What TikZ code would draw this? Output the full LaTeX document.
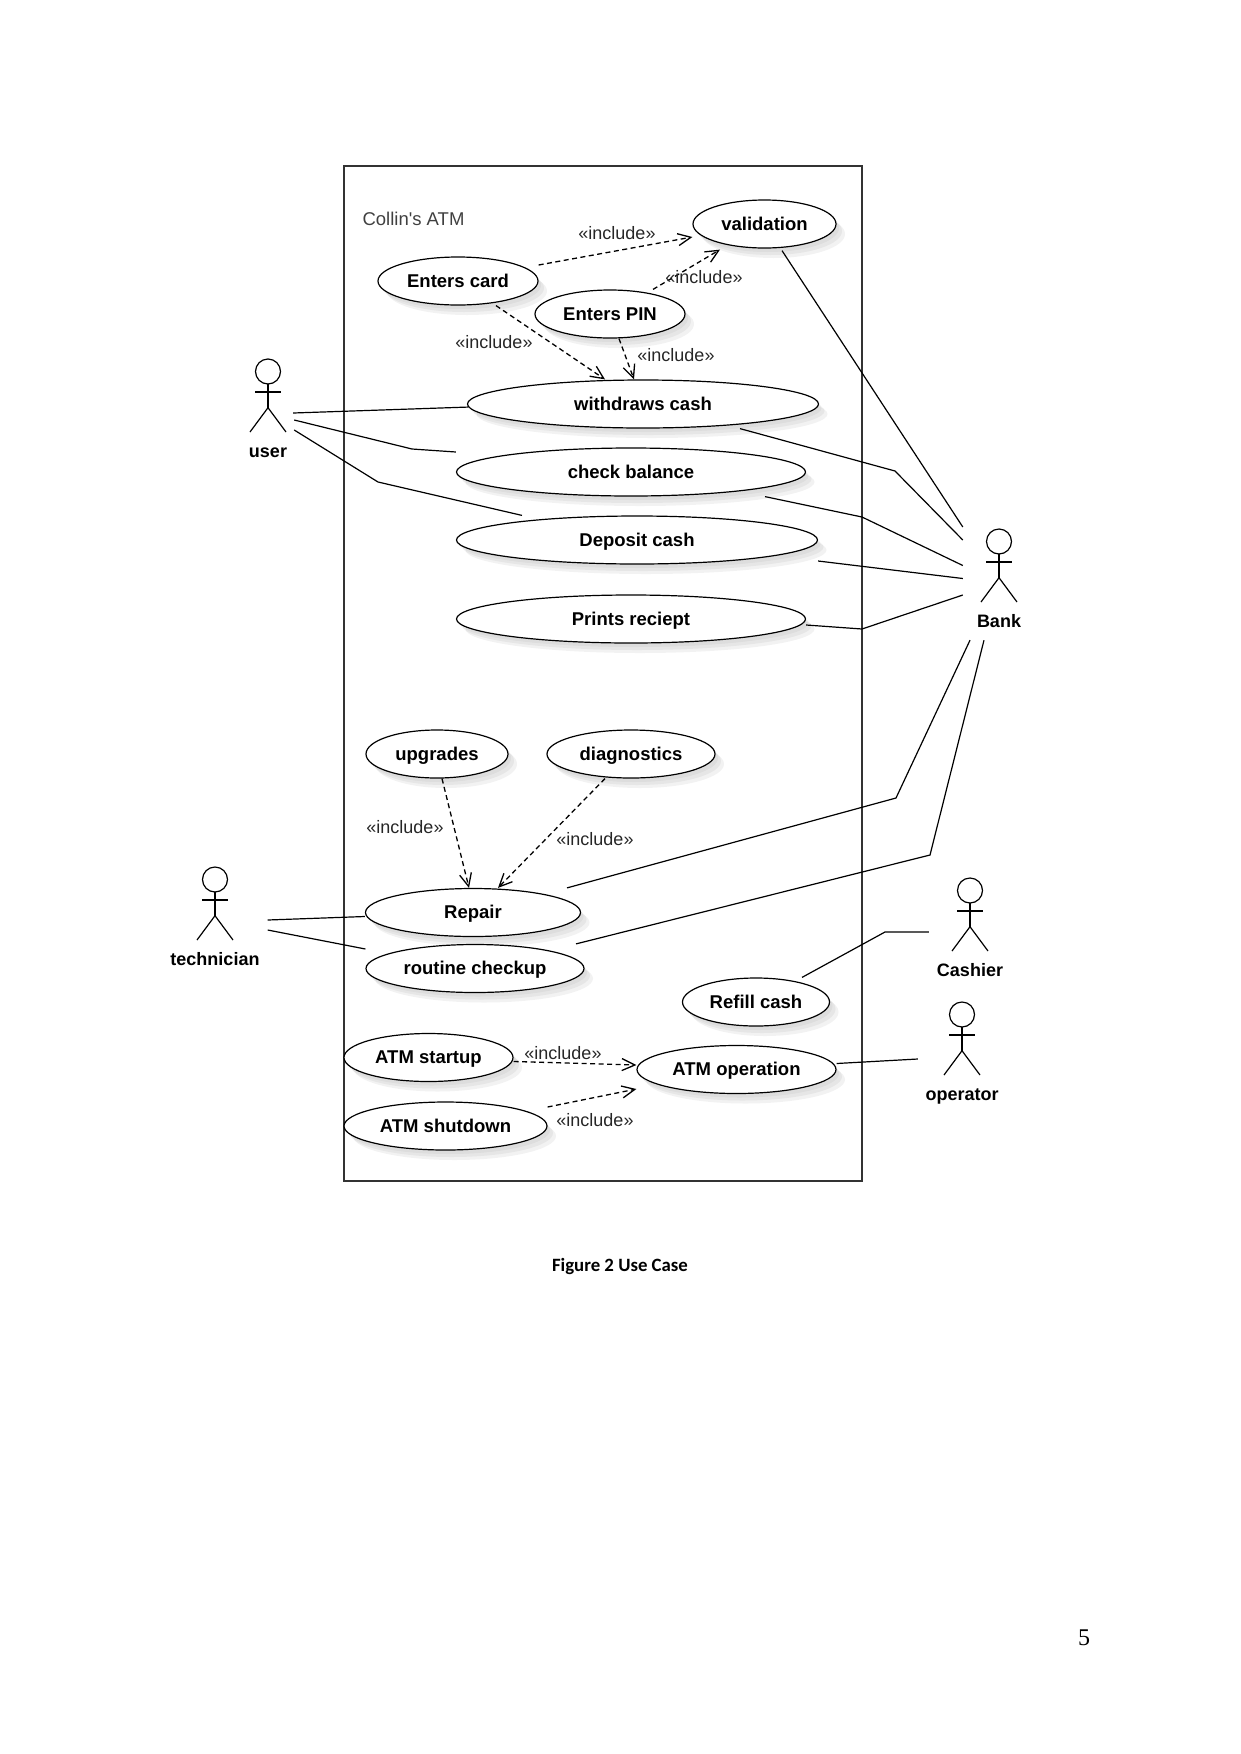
\documentclass[tikz,border=0pt]{standalone}
\usepackage{fontspec}
\setmainfont{Liberation Sans}
\newfontfamily\captionfont{Carlito}
\newfontfamily\pagefont{Liberation Serif}
\usetikzlibrary{positioning,shapes.geometric,arrows.meta,shadows}
\tikzset{
  stickman/.pic={
    \draw[line width=1.2pt] (0,-24) circle (12.5pt);
    \draw[line width=1.2pt] (0,-11.5) -- (0,12.2);
    \draw[line width=1.2pt] (-13,-3.5) -- (13,-3.5);
    \draw[line width=1.2pt] (-18,36.5) -- (0,12.2) -- (18,36.5);
  }
}
\begin{document}
\begin{tikzpicture}[%
    x=1pt, y=-1pt,
    node distance=56pt,
    softshadow/.style={%
      drop shadow={shadow xshift=3pt,shadow yshift=-4pt,fill=black,opacity=0.04},
      drop shadow={shadow xshift=6pt,shadow yshift=-7pt,fill=black,opacity=0.05},
      drop shadow={shadow xshift=9pt,shadow yshift=-10pt,fill=black,opacity=0.05}
    },
    usecase/.style={%
      ellipse,
      draw,
      fill=white,
      line width=1.2pt,
      minimum height=48pt,
      inner sep=0pt,
      text height=14pt,
      text depth=2pt,
      font=\bfseries\fontsize{18.5}{20}\selectfont,
      softshadow
    },
    actor/.style={%
      minimum width=36pt,
      minimum height=73pt,
      inner sep=0pt
    },
    actorname/.style={%
      inner sep=0pt,
      text height=14pt,
      text depth=2pt,
      font=\bfseries\fontsize{18}{20}\selectfont
    },
    note/.style={%
      inner sep=0pt,
      text=black!85,
      font=\fontsize{18}{20}\selectfont
    },
    assoc/.style={line width=1.2pt},
    incl/.style={%
      line width=1.3pt,
      dash pattern=on 5pt off 3.5pt,
      ->,
      >={Straight Barb[length=13pt,width=12pt]}
    }
  ]
    \useasboundingbox (0,0) rectangle (1241,1754);

    \node[draw=black!80, line width=2pt, minimum width=518pt, minimum height=1015pt, inner sep=0pt] (atm) at (603,673.5) {};
    \node[note, text=black!75, font=\fontsize{18.5}{20}\selectfont] (atmname) at (413.5,219) {Collin\textquotesingle s ATM};

    \node[usecase, minimum width=143pt] (validation) at (764.5,224) {validation};
    \node[usecase, minimum width=160pt] (card) at (458,281) {Enters card};
    \node[usecase, minimum width=150pt] (pin) at (610,314) {Enters PIN};

    \node[usecase, minimum width=351pt] (withdraws) at (643,404) {withdraws cash};
    \node[usecase, minimum width=349pt, node distance=68pt, xshift=-12pt] (check) [below of=withdraws] {check balance};
    \node[usecase, minimum width=361pt, node distance=68pt, xshift=6pt] (deposit) [below of=check] {Deposit cash};
    \node[usecase, minimum width=349pt, node distance=79pt, xshift=-6pt] (prints) [below of=deposit] {Prints reciept};

    \node[usecase, minimum width=142pt] (upgrades) at (437,754) {upgrades};
    \node[usecase, minimum width=168pt, node distance=194pt] (diagnostics) [right of=upgrades] {diagnostics};
    \node[usecase, minimum width=215pt] (repair) at (473,912.5) {Repair};
    \node[usecase, minimum width=218pt, xshift=2pt] (routine) [below of=repair] {routine checkup};

    \node[usecase, minimum width=147pt] (refill) at (756,1002) {Refill cash};
    \node[usecase, minimum width=199pt] (operation) at (736.5,1069.5) {ATM operation};
    \node[usecase, minimum width=169pt] (startup) at (428.5,1057.5) {ATM startup};
    \node[usecase, minimum width=203pt, node distance=68.5pt, xshift=17pt] (shutdown) [below of=startup] {ATM shutdown};

    \node[actor] (user) at (268,395.5) {};
    \node[actor] (bank) at (999,565.5) {};
    \node[actor] (technician) at (215,903.5) {};
    \node[actor] (cashier) at (970,914.5) {};
    \node[actor] (operator) at (962,1038.5) {};
    \pic at (user) {stickman};
    \pic at (bank) {stickman};
    \pic at (technician) {stickman};
    \pic at (cashier) {stickman};
    \pic at (operator) {stickman};

    \node[actorname] (username) [below of=user] {user};
    \node[actorname] (bankname) [below of=bank] {Bank};
    \node[actorname] (technicianname) [below of=technician] {technician};
    \node[actorname] (cashiername) [below of=cashier] {Cashier};
    \node[actorname] (operatorname) [below of=operator] {operator};

    % include arrows
    \draw[incl] ([yshift=16pt]card.east) -- ([yshift=-13pt]validation.west);
    \draw[incl] ([xshift=43pt]pin.north) -- ([xshift=-44.5pt,yshift=-1pt]validation.south);
    \draw[incl] ([xshift=38pt]card.south) -- ([xshift=-38pt]withdraws.north);
    \draw[incl] ([xshift=9pt]pin.south) -- ([xshift=-9pt]withdraws.north);
    \draw[incl] ([xshift=5pt]upgrades.south) -- ([xshift=-4pt]repair.north);
    \draw[incl] ([xshift=-26pt]diagnostics.south) -- ([xshift=25pt]repair.north);
    \draw[incl] ([yshift=-4pt]startup.east) -- ([yshift=4.5pt]operation.west);
    \draw[incl] ([yshift=19pt]shutdown.east) -- ([yshift=-19.5pt]operation.west);

    \node[note] (inc1) at (617,233) {«include»};
    \node[note] (inc2) at (704,277) {«include»};
    \node[note] (inc3) at (494,342) {«include»};
    \node[note] (inc4) at (676,355) {«include»};
    \node[note] (inc5) at (405,827) {«include»};
    \node[note] (inc6) at (595,839) {«include»};
    \node[note] (inc7) at (563,1053) {«include»};
    \node[note] (inc8) at (595,1120) {«include»};

    % user
    \draw[assoc] ([xshift=7pt,yshift=-17.5pt]user.east) -- (withdraws.181);
    \draw[assoc] ([xshift=8pt,yshift=-24.5pt]user.east) -- (412,449) -- ([yshift=20pt]check.west);
    \draw[assoc] ([xshift=8pt,yshift=-34.5pt]user.east) -- (378,482) -- ([xshift=-115pt]deposit.north);

    % bank
    \draw[assoc] ([xshift=17.5pt,yshift=-2pt]validation.south) -- ([xshift=-18pt,yshift=38.5pt]bank.west);
    \draw[assoc] ([xshift=97pt]withdraws.south) -- (895,471) -- ([xshift=-18pt,yshift=25.5pt]bank.west);
    \draw[assoc] ([xshift=134pt]check.south) -- (862,517) -- ([xshift=-18pt]bank.west);
    \draw[assoc] ([yshift=-21pt]deposit.east) -- ([xshift=-18pt,yshift=-13pt]bank.west);
    \draw[assoc] ([yshift=-6pt]prints.east) -- (862,629) -- ([xshift=-18pt,yshift=-29.5pt]bank.west);
    \draw[assoc] ([xshift=94pt]repair.north) -- (896,798) -- ([xshift=-29pt,yshift=-38pt]bank.south);
    \draw[assoc] ([xshift=101pt]routine.north) -- (930,855) -- ([xshift=-15pt,yshift=-38pt]bank.south);

    % technician, cashier, operator
    \draw[assoc] ([xshift=34.5pt,yshift=-16.5pt]technician.east) -- ([yshift=-4pt]repair.west);
    \draw[assoc] ([xshift=34.5pt,yshift=-26.5pt]technician.east) -- ([yshift=19.5pt]routine.west);
    \draw[assoc] ([xshift=46pt]refill.north) -- (885,932) -- ([xshift=-23pt,yshift=-17.5pt]cashier.west);
    \draw[assoc] ([yshift=6pt]operation.east) -- ([xshift=-26pt,yshift=-20.5pt]operator.west);

    \node[inner sep=0pt, font=\captionfont\bfseries\fontsize{18.8}{20}\selectfont] (caption) at (620,1266) {Figure 2 Use Case};
    \node[inner sep=0pt, font=\pagefont\fontsize{24}{26}\selectfont] (pagenumber) at (1084,1638) {5};
\end{tikzpicture}
\end{document}
